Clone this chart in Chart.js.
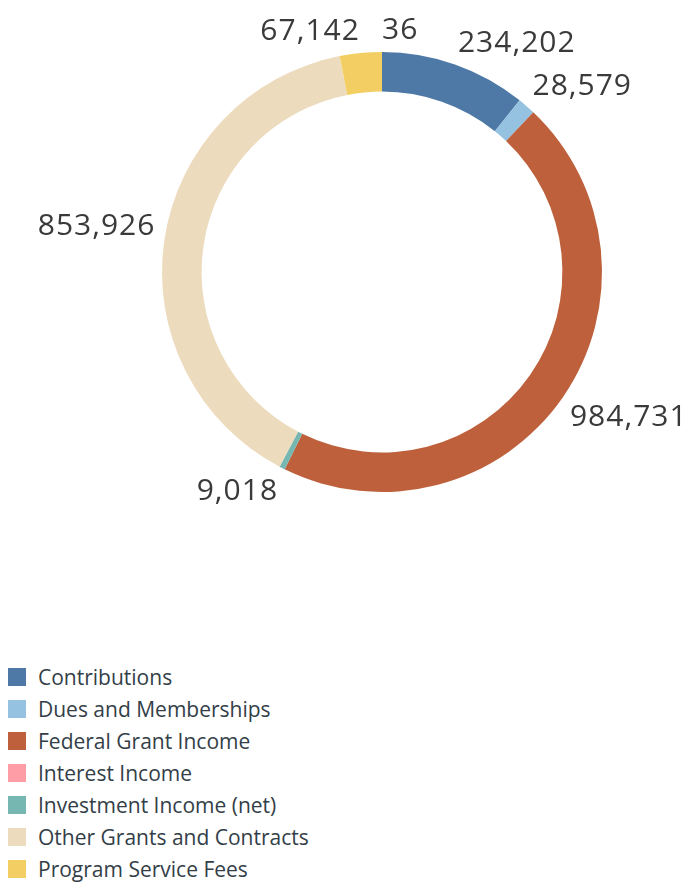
<!DOCTYPE html>
<html>
<head>
<meta charset="utf-8">
<script src="https://cdn.jsdelivr.net/npm/chart.js@4.4.1/dist/chart.umd.min.js"></script>
<style>
  html, body { margin: 0; padding: 0; background: #fff; width: 687px; height: 884px; overflow: hidden; font-family: "Open Sans", sans-serif; }
  #wrap { position: absolute; left: 0; top: 0; width: 687px; height: 560px; }
  #legend { position: absolute; left: 8px; top: 661px; }
  .row { height: 32px; display: flex; align-items: center; }
  .sw { width: 18px; height: 18px; margin-right: 12px; flex: none; }
  .tx { font-size: 21px; color: #333e48; line-height: 21px; }
</style>
</head>
<body>
<div id="wrap"><canvas id="c" width="687" height="560"></canvas></div>
<div id="legend"></div>
<script>
// Categories in legend order
const categories = ["Contributions", "Dues and Memberships", "Federal Grant Income", "Interest Income", "Investment Income (net)", "Other Grants and Contracts", "Program Service Fees"];
const values = [234202, 28579, 984731, 36, 9018, 853926, 67142];
const colors = ["#4e78a6", "#94c2e0", "#bd603b", "#ff9da7", "#76b7b2", "#eddbbd", "#f3cf63"];
// Order in which slices go clockwise from the top
const sliceOrder = [3, 0, 1, 2, 4, 5, 6];

const chartLabels = sliceOrder.map(i => categories[i]);
const chartValues = sliceOrder.map(i => values[i]);
const chartColors = sliceOrder.map(i => colors[i]);

const fmt = v => v.toLocaleString('en-US');

const labelPlugin = {
  id: 'outLabels',
  afterDatasetsDraw(chart) {
    const ctx = chart.ctx;
    const meta = chart.getDatasetMeta(0);
    ctx.save();
    ctx.font = '30px "Open Sans"';
    ctx.fillStyle = '#3a3a3a';
    try { ctx.letterSpacing = '1px'; } catch (e) {}
    meta.data.forEach((arc, i) => {
      const p = arc.getProps(['x', 'y', 'startAngle', 'endAngle', 'outerRadius'], true);
      const mid = (p.startAngle + p.endAngle) / 2;
      const r = p.outerRadius + 9;
      const cx = Math.cos(mid), sy = Math.sin(mid);
      const x = p.x + r * cx;
      const y = p.y + r * sy;
      ctx.textAlign = cx >= 0 ? 'left' : 'right';
      ctx.textBaseline = sy < 0 ? 'alphabetic' : 'top';
      const yy = sy < 0 ? y - 4 : y;
      ctx.fillText(fmt(chart.data.datasets[0].data[i]), x, yy);
    });
    ctx.restore();
  }
};

new Chart(document.getElementById('c'), {
  type: 'doughnut',
  data: {
    labels: chartLabels,
    datasets: [{ data: chartValues, backgroundColor: chartColors, borderWidth: 0 }]
  },
  options: {
    responsive: false,
    animation: false,
    cutout: '82%',
    layout: { padding: { top: 52, left: 162, right: 85, bottom: 68 } },
    plugins: { legend: { display: false }, tooltip: { enabled: false } }
  },
  plugins: [labelPlugin]
});

const leg = document.getElementById('legend');
categories.forEach((c, i) => {
  const row = document.createElement('div');
  row.className = 'row';
  row.innerHTML = '<div class="sw" style="background:' + colors[i] + '"></div><div class="tx">' + c + '</div>';
  leg.appendChild(row);
});
</script>
</body>
</html>
